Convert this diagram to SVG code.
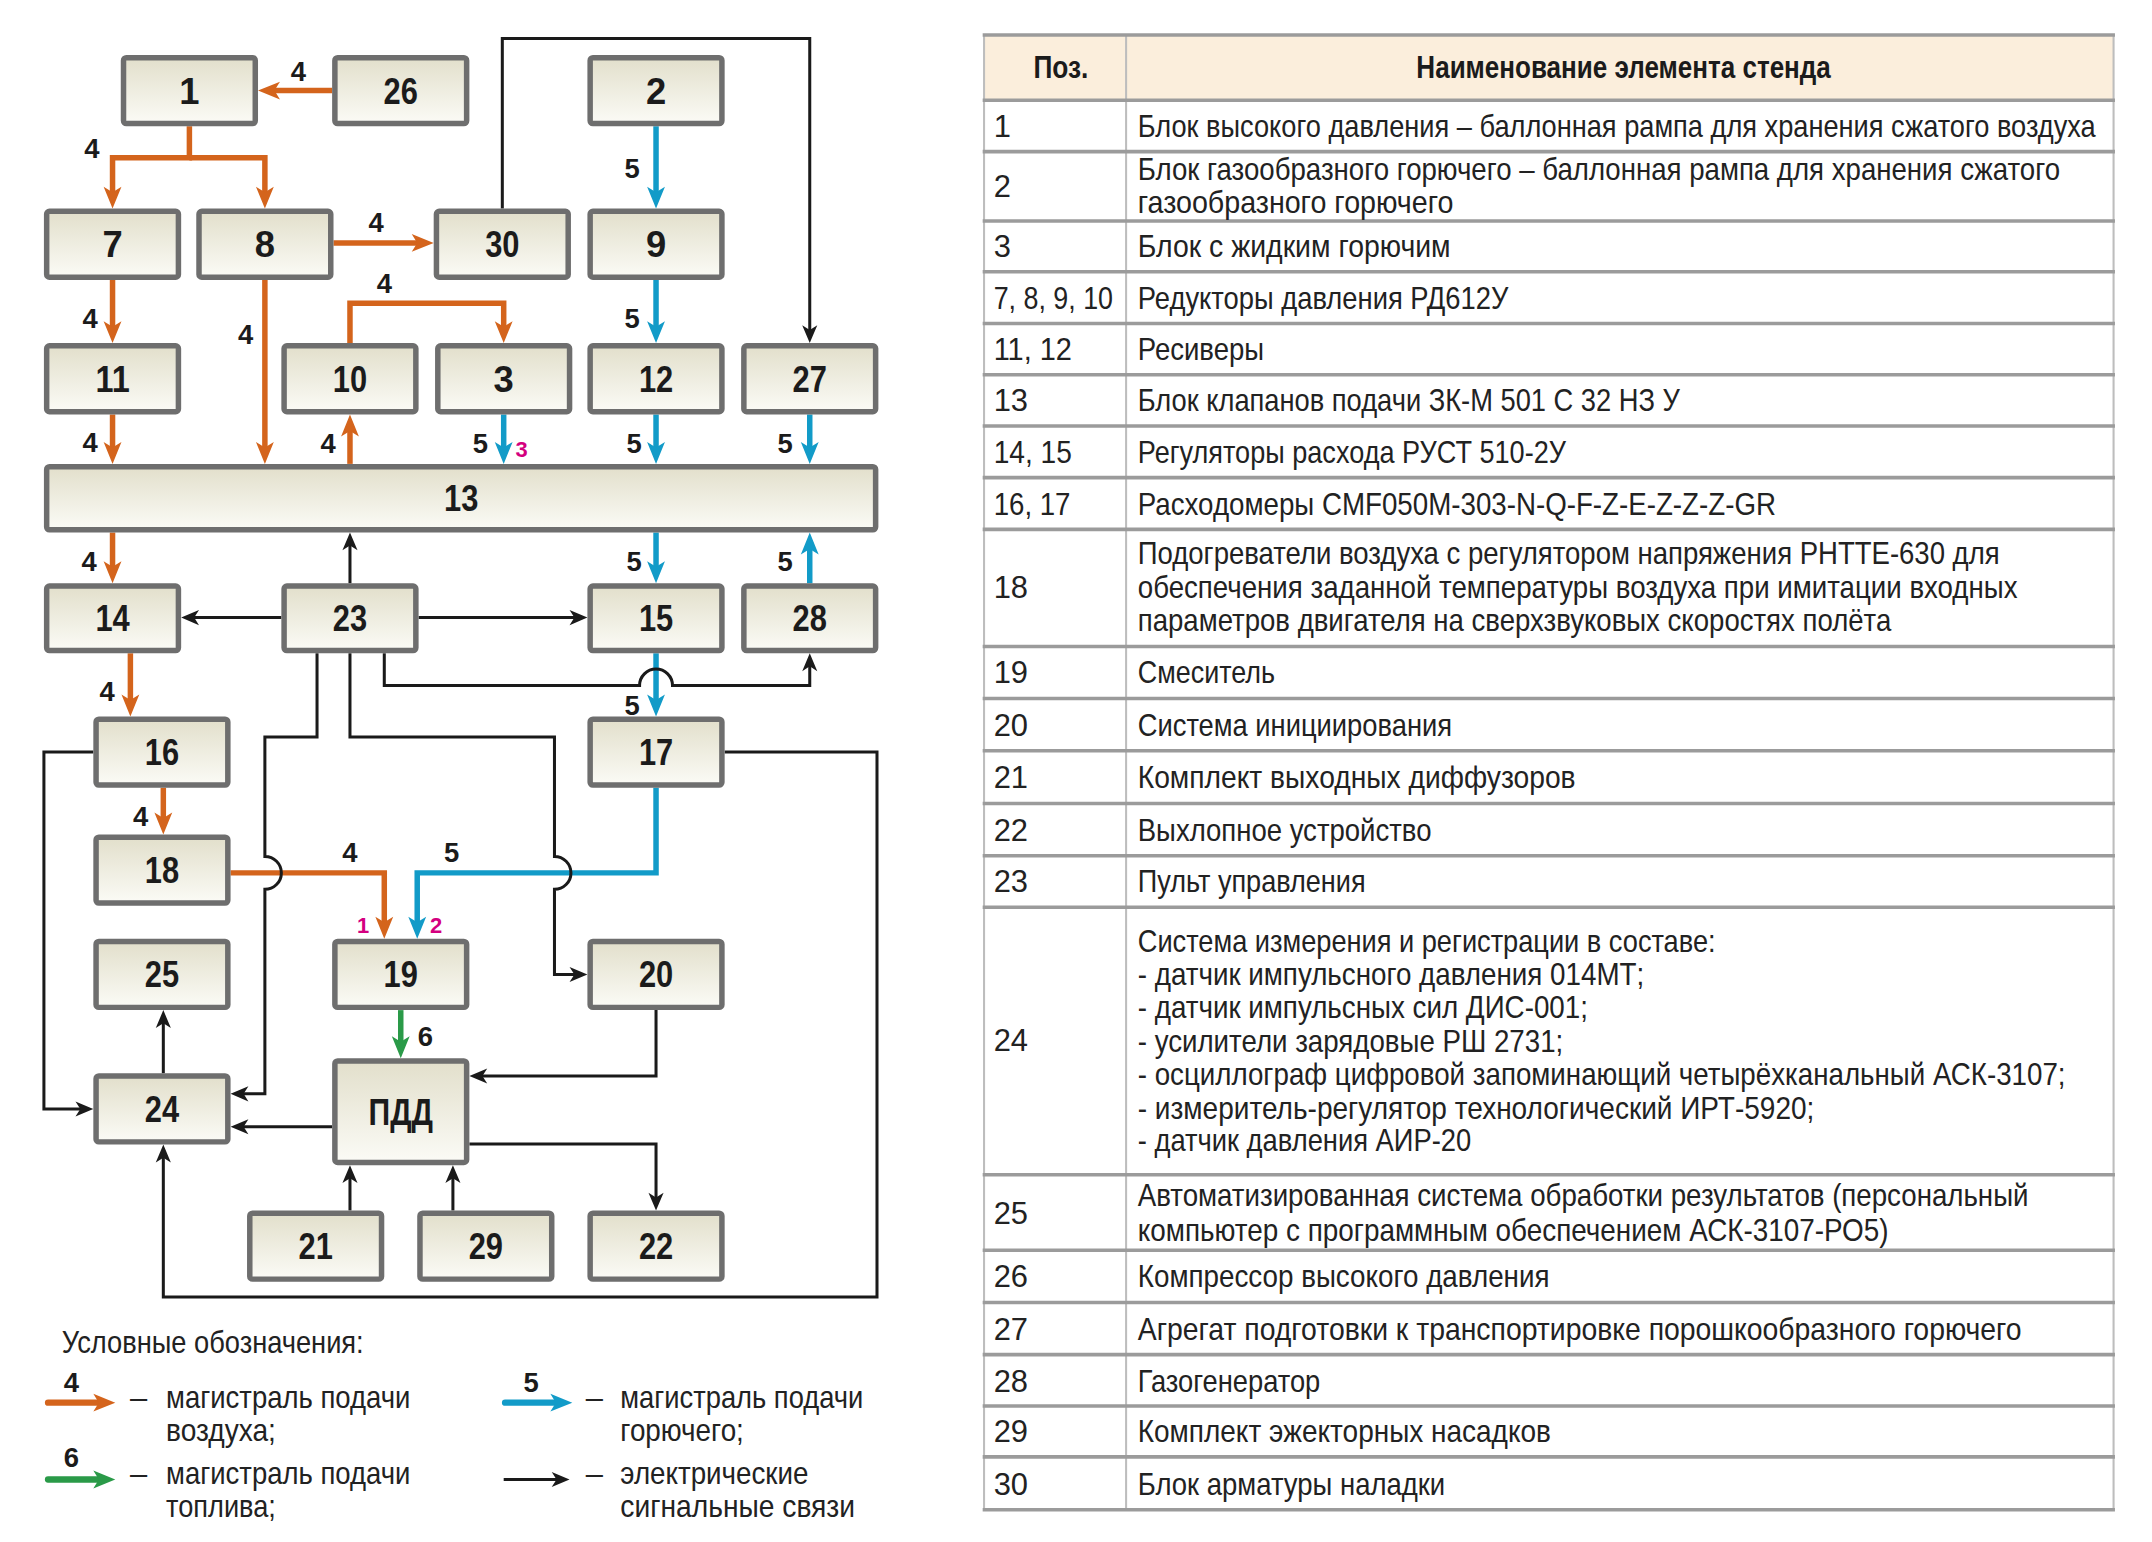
<svg xmlns="http://www.w3.org/2000/svg" width="2152" height="1542" viewBox="0 0 2152 1542">
<defs>
<linearGradient id="g" x1="0" y1="0" x2="0" y2="1">
<stop offset="0" stop-color="#e2dfcb"/>
<stop offset="1" stop-color="#fbfbf6"/>
</linearGradient>
<marker id="ao" markerUnits="userSpaceOnUse" orient="auto" refX="8" refY="0" markerWidth="20" markerHeight="20" overflow="visible"><path d="M0,-6.5 L16,0 L0,6.5 L4,0 Z" fill="#d4641c"/></marker>
<marker id="ab" markerUnits="userSpaceOnUse" orient="auto" refX="8" refY="0" markerWidth="20" markerHeight="20" overflow="visible"><path d="M0,-6.5 L16,0 L0,6.5 L4,0 Z" fill="#129bc8"/></marker>
<marker id="ag" markerUnits="userSpaceOnUse" orient="auto" refX="8" refY="0" markerWidth="20" markerHeight="20" overflow="visible"><path d="M0,-6.5 L16,0 L0,6.5 L4,0 Z" fill="#2a9a48"/></marker>
<marker id="ak" markerUnits="userSpaceOnUse" orient="auto" refX="5" refY="0" markerWidth="20" markerHeight="20" overflow="visible"><path d="M0,-5.5 L13,0 L0,5.5 L3.5,0 Z" fill="#1a1a1a"/></marker>
</defs>
<style>
.bx{fill:url(#g);stroke:#6e6e6e;stroke-width:4}
.bl{font-family:"Liberation Sans",Arial,sans-serif;font-weight:bold;font-size:26.5px;text-anchor:middle;fill:#1b1b1b}
.o{fill:none;stroke:#d4641c;stroke-width:4;marker-end:url(#ao)}
.b{fill:none;stroke:#129bc8;stroke-width:4;marker-end:url(#ab)}
.gr{fill:none;stroke:#2a9a48;stroke-width:4;marker-end:url(#ag)}
.k{fill:none;stroke:#1a1a1a;stroke-width:2.2;marker-end:url(#ak)}
.lg{stroke-width:4.6;stroke-linecap:round}
.n{font-family:"Liberation Sans",Arial,sans-serif;font-weight:bold;font-size:20px;text-anchor:middle;fill:#1b1b1b}
.m{font-family:"Liberation Sans",Arial,sans-serif;font-weight:bold;font-size:16px;text-anchor:middle;fill:#d4007f}
.t{font-family:"Liberation Sans",Arial,sans-serif;font-size:22.5px;fill:#222}
.th{font-family:"Liberation Sans",Arial,sans-serif;font-weight:bold;font-size:22.5px;fill:#1b1b1b;text-anchor:middle}
.hl{stroke:#9b9b9b;stroke-width:2.6}
.vl{stroke:#bdbdbd;stroke-width:1.5}
</style>
<g transform="scale(1.372449)">
<g id="connectors">
<path class="o" d="M242,66 H196"/>
<path class="o" d="M138,92 V115 H82 V144"/>
<path class="o" d="M138,115 H193 V144"/>
<path class="o" d="M243,177 H308"/>
<path class="o" d="M82,204 V242"/>
<path class="o" d="M193,204 V330"/>
<path class="o" d="M255,250 V221 H367 V242"/>
<path class="o" d="M82,302 V330"/>
<path class="o" d="M255,338 V310"/>
<path class="o" d="M82,388 V417"/>
<path class="o" d="M95,476 V514"/>
<path class="o" d="M119,574 V600"/>
<path class="o" d="M168,636 H280 V676"/>
<path class="b" d="M478,92 V144"/>
<path class="b" d="M478,204 V242"/>
<path class="b" d="M367,302 V330"/>
<path class="b" d="M478,302 V330"/>
<path class="b" d="M590,302 V330"/>
<path class="b" d="M478,388 V417"/>
<path class="b" d="M590,425 V396"/>
<path class="b" d="M478,476 V514"/>
<path class="b" d="M478,574 V636 H304 V676"/>
<path class="gr" d="M292,736 V763"/>
<path class="k" d="M366,152 V28 H590 V242"/>
<path class="k" d="M255,425 V396"/>
<path class="k" d="M205,450 H140"/>
<path class="k" d="M305,450 H420"/>
<path class="k" d="M280,476 V499.5 H466 A12,12 0 0 1 490,499.5 H590 V484"/>
<path class="k" d="M231,476 V537 H193 V624 A12,12 0 0 1 193,648 V797 H176"/>
<path class="k" d="M255,476 V537 H404 V624 A12,12 0 0 1 404,648 V710 H420"/>
<path class="k" d="M68,548 H32 V808 H60"/>
<path class="k" d="M528,548 H639 V945 H119 V842"/>
<path class="k" d="M119,782 V744"/>
<path class="k" d="M478,736 V784 H350"/>
<path class="k" d="M242,821 H176"/>
<path class="k" d="M342,833.5 H478 V874"/>
<path class="k" d="M255,882 V857"/>
<path class="k" d="M330,882 V857"/>
<g id="line-labels">
<text class="n" x="217.5" y="59">4</text>
<text class="n" x="67" y="115">4</text>
<text class="n" x="274" y="169">4</text>
<text class="n" x="280" y="213.5">4</text>
<text class="n" x="65.6" y="239">4</text>
<text class="n" x="179" y="251">4</text>
<text class="n" x="65.6" y="329">4</text>
<text class="n" x="239" y="330">4</text>
<text class="n" x="65" y="416">4</text>
<text class="n" x="78" y="511">4</text>
<text class="n" x="102.4" y="602">4</text>
<text class="n" x="255" y="628">4</text>
<text class="n" x="460.6" y="130">5</text>
<text class="n" x="460.6" y="239">5</text>
<text class="n" x="350" y="330">5</text>
<text class="n" x="462" y="330">5</text>
<text class="n" x="572" y="330">5</text>
<text class="n" x="462" y="416">5</text>
<text class="n" x="572" y="416">5</text>
<text class="n" x="460.6" y="521">5</text>
<text class="n" x="329" y="628">5</text>
<text class="n" x="310" y="762">6</text>
<text class="m" x="380" y="333">3</text>
<text class="m" x="264.6" y="680">1</text>
<text class="m" x="317.7" y="680">2</text>
</g>
</g>
<g id="n1"><rect class="bx" x="90" y="42" width="96" height="48" rx="2"/><text class="bl" x="138" y="75.5">1</text></g>
<g id="n26"><rect class="bx" x="244" y="42" width="96" height="48" rx="2"/><text class="bl" x="292" y="75.5" textLength="25" lengthAdjust="spacingAndGlyphs">26</text></g>
<g id="n2"><rect class="bx" x="430" y="42" width="96" height="48" rx="2"/><text class="bl" x="478" y="75.5">2</text></g>
<g id="n7"><rect class="bx" x="34" y="154" width="96" height="48" rx="2"/><text class="bl" x="82" y="187.5">7</text></g>
<g id="n8"><rect class="bx" x="145" y="154" width="96" height="48" rx="2"/><text class="bl" x="193" y="187.5">8</text></g>
<g id="n30"><rect class="bx" x="318" y="154" width="96" height="48" rx="2"/><text class="bl" x="366" y="187.5" textLength="25" lengthAdjust="spacingAndGlyphs">30</text></g>
<g id="n9"><rect class="bx" x="430" y="154" width="96" height="48" rx="2"/><text class="bl" x="478" y="187.5">9</text></g>
<g id="n11"><rect class="bx" x="34" y="252" width="96" height="48" rx="2"/><text class="bl" x="82" y="285.5" textLength="25" lengthAdjust="spacingAndGlyphs">11</text></g>
<g id="n10"><rect class="bx" x="207" y="252" width="96" height="48" rx="2"/><text class="bl" x="255" y="285.5" textLength="25" lengthAdjust="spacingAndGlyphs">10</text></g>
<g id="n3"><rect class="bx" x="319" y="252" width="96" height="48" rx="2"/><text class="bl" x="367" y="285.5">3</text></g>
<g id="n12"><rect class="bx" x="430" y="252" width="96" height="48" rx="2"/><text class="bl" x="478" y="285.5" textLength="25" lengthAdjust="spacingAndGlyphs">12</text></g>
<g id="n27"><rect class="bx" x="542" y="252" width="96" height="48" rx="2"/><text class="bl" x="590" y="285.5" textLength="25" lengthAdjust="spacingAndGlyphs">27</text></g>
<g id="n13"><rect class="bx" x="34" y="340" width="604" height="46" rx="2"/><text class="bl" x="336" y="372.5" textLength="25" lengthAdjust="spacingAndGlyphs">13</text></g>
<g id="n14"><rect class="bx" x="34" y="427" width="96" height="47" rx="2"/><text class="bl" x="82" y="460" textLength="25" lengthAdjust="spacingAndGlyphs">14</text></g>
<g id="n23"><rect class="bx" x="207" y="427" width="96" height="47" rx="2"/><text class="bl" x="255" y="460" textLength="25" lengthAdjust="spacingAndGlyphs">23</text></g>
<g id="n15"><rect class="bx" x="430" y="427" width="96" height="47" rx="2"/><text class="bl" x="478" y="460" textLength="25" lengthAdjust="spacingAndGlyphs">15</text></g>
<g id="n28"><rect class="bx" x="542" y="427" width="96" height="47" rx="2"/><text class="bl" x="590" y="460" textLength="25" lengthAdjust="spacingAndGlyphs">28</text></g>
<g id="n16"><rect class="bx" x="70" y="524" width="96" height="48" rx="2"/><text class="bl" x="118" y="557.5" textLength="25" lengthAdjust="spacingAndGlyphs">16</text></g>
<g id="n17"><rect class="bx" x="430" y="524" width="96" height="48" rx="2"/><text class="bl" x="478" y="557.5" textLength="25" lengthAdjust="spacingAndGlyphs">17</text></g>
<g id="n18"><rect class="bx" x="70" y="610" width="96" height="48" rx="2"/><text class="bl" x="118" y="643.5" textLength="25" lengthAdjust="spacingAndGlyphs">18</text></g>
<g id="n25"><rect class="bx" x="70" y="686" width="96" height="48" rx="2"/><text class="bl" x="118" y="719.5" textLength="25" lengthAdjust="spacingAndGlyphs">25</text></g>
<g id="n19"><rect class="bx" x="244" y="686" width="96" height="48" rx="2"/><text class="bl" x="292" y="719.5" textLength="25" lengthAdjust="spacingAndGlyphs">19</text></g>
<g id="n20"><rect class="bx" x="430" y="686" width="96" height="48" rx="2"/><text class="bl" x="478" y="719.5" textLength="25" lengthAdjust="spacingAndGlyphs">20</text></g>
<g id="n24"><rect class="bx" x="70" y="784" width="96" height="48" rx="2"/><text class="bl" x="118" y="817.5" textLength="25" lengthAdjust="spacingAndGlyphs">24</text></g>
<g id="nPDD"><rect class="bx" x="244" y="773" width="96" height="74" rx="2"/><text class="bl" x="292" y="819.5" textLength="47" lengthAdjust="spacingAndGlyphs">ПДД</text></g>
<g id="n21"><rect class="bx" x="182" y="884" width="96" height="48" rx="2"/><text class="bl" x="230" y="917.5" textLength="25" lengthAdjust="spacingAndGlyphs">21</text></g>
<g id="n29"><rect class="bx" x="306" y="884" width="96" height="48" rx="2"/><text class="bl" x="354" y="917.5" textLength="25" lengthAdjust="spacingAndGlyphs">29</text></g>
<g id="n22"><rect class="bx" x="430" y="884" width="96" height="48" rx="2"/><text class="bl" x="478" y="917.5" textLength="25" lengthAdjust="spacingAndGlyphs">22</text></g>
<g id="legend">
<text class="t" x="45" y="986" textLength="220" lengthAdjust="spacingAndGlyphs">Условные обозначения:</text>
<path class="o lg" d="M35,1022 H76"/>
<text class="n" x="52" y="1014">4</text>
<text class="t" x="101" y="1026" text-anchor="middle">–</text>
<text class="t" x="121" y="1026" textLength="178" lengthAdjust="spacingAndGlyphs">магистраль подачи</text>
<text class="t" x="121" y="1050" textLength="80" lengthAdjust="spacingAndGlyphs">воздуха;</text>
<path class="gr lg" d="M35,1078 H76"/>
<text class="n" x="52" y="1069">6</text>
<text class="t" x="101" y="1081" text-anchor="middle">–</text>
<text class="t" x="121" y="1081" textLength="178" lengthAdjust="spacingAndGlyphs">магистраль подачи</text>
<text class="t" x="121" y="1105" textLength="80" lengthAdjust="spacingAndGlyphs">топлива;</text>
<path class="b lg" d="M368,1022 H409"/>
<text class="n" x="387" y="1014">5</text>
<text class="t" x="433" y="1026" text-anchor="middle">–</text>
<text class="t" x="452" y="1026" textLength="177" lengthAdjust="spacingAndGlyphs">магистраль подачи</text>
<text class="t" x="452" y="1050" textLength="90" lengthAdjust="spacingAndGlyphs">горючего;</text>
<path class="k" d="M367,1078 H407"/>
<text class="t" x="433" y="1081" text-anchor="middle">–</text>
<text class="t" x="452" y="1081" textLength="137" lengthAdjust="spacingAndGlyphs">электрические</text>
<text class="t" x="452" y="1105" textLength="171" lengthAdjust="spacingAndGlyphs">сигнальные связи</text>
</g>
<g id="table">
<rect x="717" y="26" width="823" height="47" fill="#fbeedc"/>
<line class="vl" x1="717" y1="25.5" x2="717" y2="1100"/>
<line class="vl" x1="820.5" y1="25.5" x2="820.5" y2="1100"/>
<line class="vl" x1="1540" y1="25.5" x2="1540" y2="1100"/>
<line class="hl" x1="716" y1="25.5" x2="1541" y2="25.5" stroke-width="3.5"/>
<line class="hl" x1="716" y1="73" x2="1541" y2="73"/>
<line class="hl" x1="716" y1="110.5" x2="1541" y2="110.5"/>
<line class="hl" x1="716" y1="161" x2="1541" y2="161"/>
<line class="hl" x1="716" y1="198" x2="1541" y2="198"/>
<line class="hl" x1="716" y1="235.7" x2="1541" y2="235.7"/>
<line class="hl" x1="716" y1="273" x2="1541" y2="273"/>
<line class="hl" x1="716" y1="310.4" x2="1541" y2="310.4"/>
<line class="hl" x1="716" y1="348" x2="1541" y2="348"/>
<line class="hl" x1="716" y1="385.7" x2="1541" y2="385.7"/>
<line class="hl" x1="716" y1="471" x2="1541" y2="471"/>
<line class="hl" x1="716" y1="509" x2="1541" y2="509"/>
<line class="hl" x1="716" y1="547" x2="1541" y2="547"/>
<line class="hl" x1="716" y1="585.5" x2="1541" y2="585.5"/>
<line class="hl" x1="716" y1="623.5" x2="1541" y2="623.5"/>
<line class="hl" x1="716" y1="661" x2="1541" y2="661"/>
<line class="hl" x1="716" y1="856" x2="1541" y2="856"/>
<line class="hl" x1="716" y1="911" x2="1541" y2="911"/>
<line class="hl" x1="716" y1="949" x2="1541" y2="949"/>
<line class="hl" x1="716" y1="987" x2="1541" y2="987"/>
<line class="hl" x1="716" y1="1024.5" x2="1541" y2="1024.5"/>
<line class="hl" x1="716" y1="1061.5" x2="1541" y2="1061.5"/>
<line class="hl" x1="716" y1="1100" x2="1541" y2="1100" stroke-width="3.5"/>
<text class="th" x="773" y="57" textLength="40" lengthAdjust="spacingAndGlyphs">Поз.</text>
<text class="th" x="1183" y="57" textLength="302" lengthAdjust="spacingAndGlyphs">Наименование элемента стенда</text>
<text class="t" x="724" y="99.5">1</text>
<text class="t" x="829" y="99.5" textLength="698" lengthAdjust="spacingAndGlyphs">Блок высокого давления – баллонная рампа для хранения сжатого воздуха</text>
<text class="t" x="724" y="143.7">2</text>
<text class="t" x="829" y="131" textLength="672" lengthAdjust="spacingAndGlyphs">Блок газообразного горючего – баллонная рампа для хранения сжатого</text>
<text class="t" x="829" y="155" textLength="230" lengthAdjust="spacingAndGlyphs">газообразного горючего</text>
<text class="t" x="724" y="187.5">3</text>
<text class="t" x="829" y="187.5" textLength="228" lengthAdjust="spacingAndGlyphs">Блок с жидким горючим</text>
<text class="t" x="724" y="225" textLength="87" lengthAdjust="spacingAndGlyphs">7, 8, 9, 10</text>
<text class="t" x="829" y="225" textLength="270" lengthAdjust="spacingAndGlyphs">Редукторы давления РД612У</text>
<text class="t" x="724" y="262.4" textLength="57" lengthAdjust="spacingAndGlyphs">11, 12</text>
<text class="t" x="829" y="262.4" textLength="92" lengthAdjust="spacingAndGlyphs">Ресиверы</text>
<text class="t" x="724" y="299.7">13</text>
<text class="t" x="829" y="299.7" textLength="395" lengthAdjust="spacingAndGlyphs">Блок клапанов подачи ЗК-М 501 С 32 НЗ У</text>
<text class="t" x="724" y="337.2" textLength="57" lengthAdjust="spacingAndGlyphs">14, 15</text>
<text class="t" x="829" y="337.2" textLength="312" lengthAdjust="spacingAndGlyphs">Регуляторы расхода РУСТ 510-2У</text>
<text class="t" x="724" y="374.9" textLength="56" lengthAdjust="spacingAndGlyphs">16, 17</text>
<text class="t" x="829" y="374.9" textLength="465" lengthAdjust="spacingAndGlyphs">Расходомеры CMF050M-303-N-Q-F-Z-E-Z-Z-Z-GR</text>
<text class="t" x="724" y="436">18</text>
<text class="t" x="829" y="411" textLength="628" lengthAdjust="spacingAndGlyphs">Подогреватели воздуха с регулятором напряжения РНТТЕ-630 для</text>
<text class="t" x="829" y="436" textLength="641" lengthAdjust="spacingAndGlyphs">обеспечения заданной температуры воздуха при имитации входных</text>
<text class="t" x="829" y="460" textLength="549" lengthAdjust="spacingAndGlyphs">параметров двигателя на сверхзвуковых скоростях полёта</text>
<text class="t" x="724" y="498">19</text>
<text class="t" x="829" y="498" textLength="100" lengthAdjust="spacingAndGlyphs">Смеситель</text>
<text class="t" x="724" y="536">20</text>
<text class="t" x="829" y="536" textLength="229" lengthAdjust="spacingAndGlyphs">Система инициирования</text>
<text class="t" x="724" y="574">21</text>
<text class="t" x="829" y="574" textLength="319" lengthAdjust="spacingAndGlyphs">Комплект выходных диффузоров</text>
<text class="t" x="724" y="612.5">22</text>
<text class="t" x="829" y="612.5" textLength="214" lengthAdjust="spacingAndGlyphs">Выхлопное устройство</text>
<text class="t" x="724" y="650">23</text>
<text class="t" x="829" y="650" textLength="166" lengthAdjust="spacingAndGlyphs">Пульт управления</text>
<text class="t" x="724" y="766">24</text>
<text class="t" x="829" y="694" textLength="421" lengthAdjust="spacingAndGlyphs">Система измерения и регистрации в составе:</text>
<text class="t" x="829" y="718" textLength="369" lengthAdjust="spacingAndGlyphs">- датчик импульсного давления 014МТ;</text>
<text class="t" x="829" y="742" textLength="328" lengthAdjust="spacingAndGlyphs">- датчик импульсных сил ДИС-001;</text>
<text class="t" x="829" y="766.5" textLength="310" lengthAdjust="spacingAndGlyphs">- усилители зарядовые РШ 2731;</text>
<text class="t" x="829" y="790.5" textLength="676" lengthAdjust="spacingAndGlyphs">- осциллограф цифровой запоминающий четырёхканальный АСК-3107;</text>
<text class="t" x="829" y="815" textLength="493" lengthAdjust="spacingAndGlyphs">- измеритель-регулятор технологический ИРТ-5920;</text>
<text class="t" x="829" y="839" textLength="243" lengthAdjust="spacingAndGlyphs">- датчик давления АИР-20</text>
<text class="t" x="724" y="891.5">25</text>
<text class="t" x="829" y="879" textLength="649" lengthAdjust="spacingAndGlyphs">Автоматизированная система обработки результатов (персональный</text>
<text class="t" x="829" y="904" textLength="547" lengthAdjust="spacingAndGlyphs">компьютер с программным обеспечением АСК-3107-РО5)</text>
<text class="t" x="724" y="938">26</text>
<text class="t" x="829" y="938" textLength="300" lengthAdjust="spacingAndGlyphs">Компрессор высокого давления</text>
<text class="t" x="724" y="976">27</text>
<text class="t" x="829" y="976" textLength="644" lengthAdjust="spacingAndGlyphs">Агрегат подготовки к транспортировке порошкообразного горючего</text>
<text class="t" x="724" y="1014">28</text>
<text class="t" x="829" y="1014" textLength="133" lengthAdjust="spacingAndGlyphs">Газогенератор</text>
<text class="t" x="724" y="1051">29</text>
<text class="t" x="829" y="1051" textLength="301" lengthAdjust="spacingAndGlyphs">Комплект эжекторных насадков</text>
<text class="t" x="724" y="1089">30</text>
<text class="t" x="829" y="1089" textLength="224" lengthAdjust="spacingAndGlyphs">Блок арматуры наладки</text>
</g>
</g>
</svg>
